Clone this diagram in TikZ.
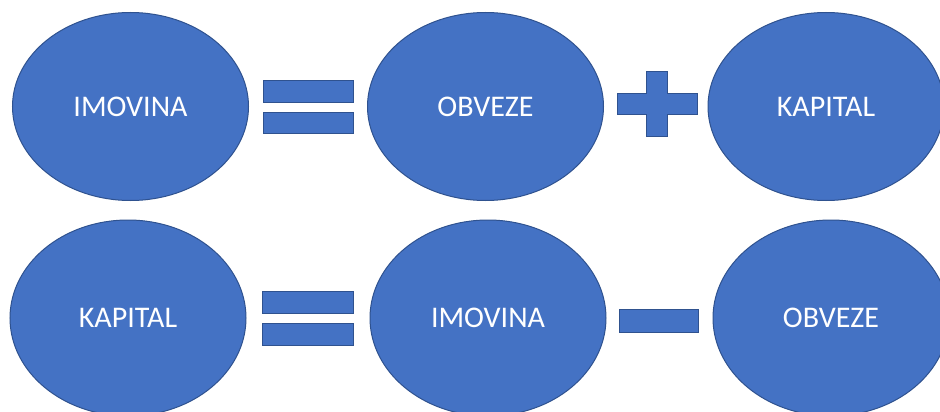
\documentclass[tikz,border=0pt]{standalone}
\usepackage{fontspec}
\setmainfont{Carlito}
\usetikzlibrary{shapes}
\definecolor{ovalblue}{HTML}{4472C4}
\definecolor{ovalline}{HTML}{2F528F}

\begin{document}
\begin{tikzpicture}[x=1pt, y=-1pt,
    oval/.style={ellipse, draw=ovalline, fill=ovalblue, line width=1pt,
      minimum width=236pt, minimum height=188pt, inner sep=0pt,
      text=white, font=\fontsize{30}{36}\selectfont},
    sign/.style={rectangle, draw=ovalline, fill=ovalblue, line width=1pt, inner sep=0pt}]
      \useasboundingbox (0, 0) rectangle (940, 412);

      % Top row
      \node[oval] (imovinaA) at (130.5, 106.5) {IMOVINA};
      \node[oval] (obvezeA) at (485.5, 106.5) {OBVEZE};
      \node[oval] (kapitalA) at (826, 106.5) {KAPITAL};
      \node[sign, minimum width=90pt, minimum height=21pt] (eqA1) at (308, 91.5) {};
      \node[sign, minimum width=90pt, minimum height=21pt] (eqA2) at (308, 122.5) {};
      \draw[draw=ovalline, fill=ovalblue, line width=1pt]
        (617, 93.5) -- (646.5, 93.5) -- (646.5, 72) -- (667.5, 72) -- (667.5, 93.5)
        -- (697, 93.5) -- (697, 114.5) -- (667.5, 114.5) -- (667.5, 136)
        -- (646.5, 136) -- (646.5, 114.5) -- (617, 114.5) -- cycle;

      % Bottom row
      \node[oval, minimum height=196pt] (kapitalB) at (128, 318) {KAPITAL};
      \node[oval, minimum height=196pt] (imovinaB) at (488, 318) {IMOVINA};
      \node[oval, minimum height=196pt] (obvezeB) at (831, 318) {OBVEZE};
      \node[sign, minimum width=91pt, minimum height=22pt] (eqB1) at (307.5, 302) {};
      \node[sign, minimum width=91pt, minimum height=22pt] (eqB2) at (307.5, 334) {};
      \node[sign, minimum width=79pt, minimum height=23pt] (minus) at (658.5, 320.5) {};
    \end{tikzpicture}
\end{document}
